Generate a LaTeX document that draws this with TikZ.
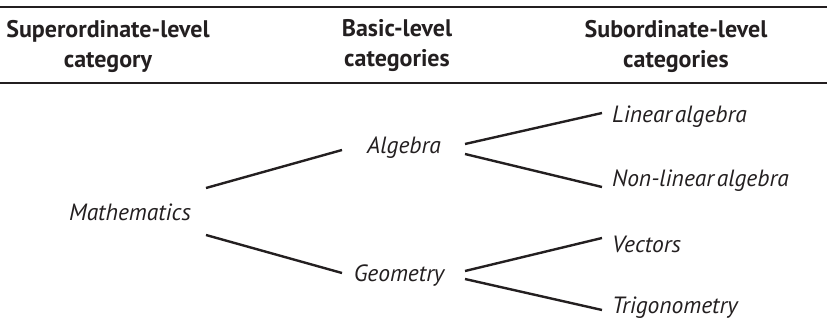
\documentclass[tikz,border=0pt]{standalone}
\usepackage{fontspec}
\setmainfont[WordSpace=0.45]{PT Sans}
\definecolor{ink}{HTML}{231F20}
\begin{document}
\begin{tikzpicture}[x=1pt,y=-1pt,
  lbl/.style={inner sep=0pt,font=\fontsize{23.5}{28}\selectfont\itshape,text=ink},
  hdr/.style={inner sep=0pt,align=center,font=\fontsize{24}{30}\selectfont\bfseries,text=ink},
  conn/.style={draw=ink,line width=2.4pt},
  rule/.style={draw=ink,line width=1.3pt}]
\useasboundingbox (0,0) rectangle (827,334);
\coordinate (r1a) at (0,7); \coordinate (r1b) at (827,7);
\coordinate (r2a) at (0,83); \coordinate (r2b) at (827,83);
\draw[rule] (r1a) -- (r1b);
\draw[rule] (r2a) -- (r2b);
\node[hdr] (h1) at (108,46) {Superordinate-level\\category};
\node[hdr] (h2) at (397,46) {Basic-level\\categories};
\node[hdr] (h3) at (676,46) {Subordinate-level\\categories};
\node[lbl] (math) at (130,212) {Mathematics};
\node[lbl] (alg) at (404,148) {Algebra};
\node[lbl] (geo) at (399,276) {Geometry};
\node[lbl,anchor=west] (lin) at (612,117) {Linear algebra};
\node[lbl,anchor=west] (nonlin) at (612,181) {Non-linear algebra};
\node[lbl,anchor=west] (vec) at (612,244) {Vectors};
\node[lbl,anchor=west] (trig) at (612,308) {Trigonometry};
\coordinate (m1) at (206,188); \coordinate (a0) at (342,150);
\coordinate (m2) at (206,235); \coordinate (g0) at (342,273);
\coordinate (a1) at (465,144); \coordinate (l0) at (602,113);
\coordinate (a2) at (465,154); \coordinate (n0) at (602,187);
\coordinate (g1) at (465,271); \coordinate (v0) at (602,238);
\coordinate (g2) at (465,279); \coordinate (t0) at (602,310);
\draw[conn] (m1) -- (a0);
\draw[conn] (m2) -- (g0);
\draw[conn] (a1) -- (l0);
\draw[conn] (a2) -- (n0);
\draw[conn] (g1) -- (v0);
\draw[conn] (g2) -- (t0);
\end{tikzpicture}
\end{document}
